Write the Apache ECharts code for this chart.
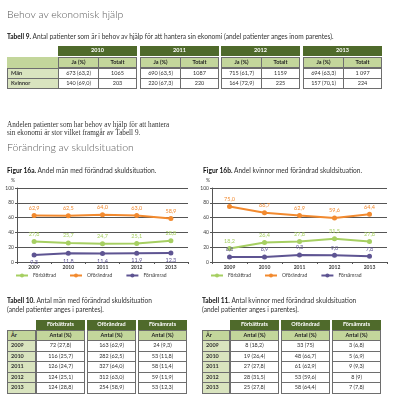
<!DOCTYPE html>
<html><head><meta charset="utf-8">
<script src="https://cdn.jsdelivr.net/npm/echarts@6/dist/echarts.min.js"></script>
<style>
body{margin:0;background:#fff;}
#page{position:relative;width:395px;height:406px;overflow:hidden;font-family:Lato,'Open Sans',sans-serif;}
#chart{position:absolute;left:0;top:0;width:395px;height:406px;}
.t{position:absolute;white-space:nowrap;}
.c{position:absolute;box-sizing:border-box;display:flex;align-items:center;justify-content:center;font-size:5.5px;white-space:nowrap;line-height:1;color:#333;}
</style></head><body>
<div id="page"><div id="chart"></div></div>
<script>
// ---- chart data ----
const years = ['2009','2010','2011','2012','2013'];
const seriesNames = ['Förbättrad','Oförändrad','Försämrad'];
const menImproved = [27.8,25.7,24.7,25.1,28.8];
const menUnchanged = [62.9,62.5,64.0,63.0,58.9];
const menWorse = [9.3,11.8,11.4,11.9,12.3];
const womenImproved = [18.2,26.4,27.8,31.5,27.8];
const womenUnchanged = [75.0,66.7,62.9,59.6,64.4];
const womenWorse = [6.8,6.9,9.3,9.0,7.8];

// ---- table 9 ----
const t9Years = ['2010','2011','2012','2013'];
const t9Sub = ['Ja (%)','Totalt'];
const t9RowLabels = ['Män','Kvinnor'];
const t9Men = ['673 (63,2)','1065','690 (63,5)','1087','715 (61,7)','1159','694 (63,3)','1 097'];
const t9Women = ['140 (69,0)','203','220 (67,3)','220','164 (72,9)','225','157 (70,1)','224'];

// ---- tables 10 / 11 ----
const tGroups = ['Förbättrats','Oförändrad','Försämrats'];
const tSub = 'Antal (%)';
const tYearHead = 'År';
const tYears = ['2009','2010','2011','2012','2013'];
const t10Improved = ['72 (27,8)','116 (25,7)','126 (24,7)','124 (25,1)','124 (28,8)'];
const t10Unchanged = ['163 (62,9)','282 (62,5)','327 (64,0)','312 (63,0)','254 (58,9)'];
const t10Worse = ['24 (9,3)','53 (11,8)','58 (11,4)','59 (11,9)','53 (12,3)'];
const t11Improved = ['8 (18,2)','19 (26,4)','27 (27,8)','28 (31,5)','25 (27,8)'];
const t11Unchanged = ['33 (75)','48 (66,7)','61 (62,9)','53 (59,6)','58 (64,4)'];
const t11Worse = ['3 (6,8)','5 (6,9)','9 (9,3)','8 (9)','7 (7,8)'];

const page = document.getElementById('page');
const DARK='#4f6a2b', LIGHT='#c3d69b', PALE='#d9e4bf', BORDER='#6e6e6e';

function text(x, yc, html, size, opt){
  opt = opt || {};
  const d = document.createElement('div');
  d.className = 't';
  d.style.left = x + 'px';
  const lh = opt.lh || size*1.25;
  d.style.top = (yc - lh/2) + 'px';
  d.style.fontSize = size + 'px';
  d.style.lineHeight = lh + 'px';
  d.style.color = opt.color || '#333';
  if (opt.family) d.style.fontFamily = opt.family;
  if (opt.weight) d.style.fontWeight = opt.weight;
  d.innerHTML = html;
  page.appendChild(d);
}
function cell(x, y, w, h, txt, o){
  const d = document.createElement('div');
  d.className = 'c';
  d.style.left = x+'px'; d.style.top = y+'px';
  d.style.width = w+'px'; d.style.height = h+'px';
  d.style.background = o.bg || '#fff';
  if (o.border) d.style.border = '1px solid ' + o.border;
  if (o.color) d.style.color = o.color;
  if (o.bold) d.style.fontWeight = 'bold';
  if (o.left) { d.style.justifyContent = 'flex-start'; d.style.paddingLeft = '3px'; }
  d.textContent = txt || '';
  page.appendChild(d);
}

// headings and captions
text(7, 15, 'Behov av ekonomisk hjälp', 10.5, {color:'#595959', weight:300});
text(7, 36, '<b style="color:#111">Tabell 9.</b> Antal patienter som är i behov av hjälp för att hantera sin ekonomi (andel patienter anges inom parentes).', 6.6, {color:'#333'});
text(7, 125, 'Andelen patienter som har behov av hjälp för att hantera<br>sin ekonomi är stor vilket framgår av Tabell 9.', 7.2, {family:"'Liberation Serif',serif", color:'#333', lh:8});
text(7, 148, 'Förändring av skuldsituation', 10.5, {color:'#595959', weight:300});
text(7, 170, '<b style="color:#111">Figur 16a.</b> Andel män med förändrad skuldsituation.', 6.6);
text(203, 170, '<b style="color:#111">Figur 16b.</b> Andel kvinnor med förändrad skuldsituation.', 6.6);
text(7, 300, '<b style="color:#111">Tabell 10.</b> Antal män med förändrad skuldsituation<br>(andel patienter anges i parentes).', 6.6, {lh:9});
text(202, 300, '<b style="color:#111">Tabell 11.</b> Antal kvinnor med förändrad skuldsituation<br>(andel patienter anges i parentes).', 6.6, {lh:9});

// table 9
(function(){
  const x0 = 7, lw = 51, gw = 79;
  const ys = [46, 57, 68, 78], h = 11;
  const rowsData = [t9Men, t9Women];
  cell(x0, ys[1], lw+1, h, '', {bg:LIGHT});
  t9RowLabels.forEach((lab, r) => cell(x0, ys[2+r], lw+1, h, lab, {bg:PALE, border:BORDER, bold:true, left:true}));
  t9Years.forEach((yr, g) => {
    const gx = Math.round(58 + g*81.67);
    const sw = Math.round(gw/2);
    cell(gx, ys[0], gw, h-1, yr, {bg:DARK, color:'#fff', bold:true});
    t9Sub.forEach((s, k) => {
      const sx = gx + k*sw, w = k ? gw - sw : sw + 1;
      cell(sx, ys[1], w, h, s, {bg:LIGHT, border:BORDER, bold:true, color:'#222'});
      rowsData.forEach((row, r) => cell(sx, ys[2+r], w, h, row[g*2+k], {bg:'#fff', border:BORDER}));
    });
  });
})();

// tables 10 / 11
function yearTable(x0, lw, gx0, gw, gstep, cols){
  const ys = [320, 330, 340, 350.5, 361, 371.5, 382];
  cell(x0, ys[1], lw+1, 11, tYearHead, {bg:LIGHT, border:BORDER, bold:true, left:true, color:'#222'});
  tYears.forEach((yr, r) => cell(x0, ys[2+r], lw+1, 11.5, yr, {bg:PALE, border:BORDER, bold:true, left:true}));
  tGroups.forEach((gname, g) => {
    const gx = Math.round(gx0 + g*gstep);
    cell(gx, ys[0], gw, 9.5, gname, {bg:DARK, color:'#fff', bold:true});
    cell(gx, ys[1], gw, 11, tSub, {bg:LIGHT, border:BORDER, bold:true, color:'#222'});
    cols[g].forEach((v, r) => cell(gx, ys[2+r], gw, 11.5, v, {bg:'#fff', border:BORDER}));
  });
}
yearTable(7, 28, 36, 49, 51, [t10Improved, t10Unchanged, t10Worse]);
yearTable(202, 27, 230, 49, 51, [t11Improved, t11Unchanged, t11Worse]);

// ---- ECharts ----
const GREEN='#a6cf62', ORANGE='#f28a2f', PURPLE='#5e5492';
const chart = echarts.init(document.getElementById('chart'), null, {renderer:'canvas'});
const fmt = p => Number(p.value).toFixed(1).replace('.', ',');
function ser(name, data, color, gi, pos){
  return {name, type:'line', xAxisIndex:gi, yAxisIndex:gi, data,
    symbol:'circle', symbolSize:5, lineStyle:{width:2, color}, itemStyle:{color},
    label:{show:true, position:pos, distance:2, fontSize:5.5, color, fontFamily:'Lato', formatter:fmt},
    animation:false};
}
function xa(gi){
  return {type:'category', gridIndex:gi, data:years, boundaryGap:true,
    axisLine:{lineStyle:{color:'#555', width:1}},
    axisTick:{show:true, length:2, lineStyle:{color:'#555'}},
    axisLabel:{fontSize:5, color:'#404040', fontWeight:'bold', margin:3, fontFamily:'Lato'}};
}
function ya(gi){
  return {type:'value', gridIndex:gi, min:0, max:100, interval:20,
    name:'%', nameLocation:'end', nameGap:5,
    nameTextStyle:{fontSize:5, color:'#404040', align:'right', fontFamily:'Lato', padding:[0,2,0,0]},
    axisLine:{show:true, lineStyle:{color:'#555', width:1}},
    axisTick:{show:true, length:2, lineStyle:{color:'#555'}},
    splitLine:{show:true, lineStyle:{color:'#555', width:1}},
    axisLabel:{fontSize:5, color:'#404040', margin:3, fontFamily:'Lato'}};
}
function lg(left){
  return {left, top:273, data:seriesNames, itemWidth:12, itemHeight:5, itemGap:13,
    padding:0, selectedMode:false,
    textStyle:{fontSize:5, color:'#404040', fontFamily:'Lato'}};
}
chart.setOption({
  animation:false,
  grid:[{left:17, top:188, width:171, height:74}, {left:212, top:188, width:175, height:74}],
  xAxis:[xa(0), xa(1)],
  yAxis:[ya(0), ya(1)],
  legend:[lg(15), lg(210)],
  color:[GREEN, ORANGE, PURPLE],
  series:[
    ser(seriesNames[0], menImproved, GREEN, 0, 'top'),
    ser(seriesNames[1], menUnchanged, ORANGE, 0, 'top'),
    ser(seriesNames[2], menWorse, PURPLE, 0, 'bottom'),
    ser(seriesNames[0], womenImproved, GREEN, 1, 'top'),
    ser(seriesNames[1], womenUnchanged, ORANGE, 1, 'top'),
    ser(seriesNames[2], womenWorse, PURPLE, 1, 'top')
  ]
});
</script>
</body></html>
